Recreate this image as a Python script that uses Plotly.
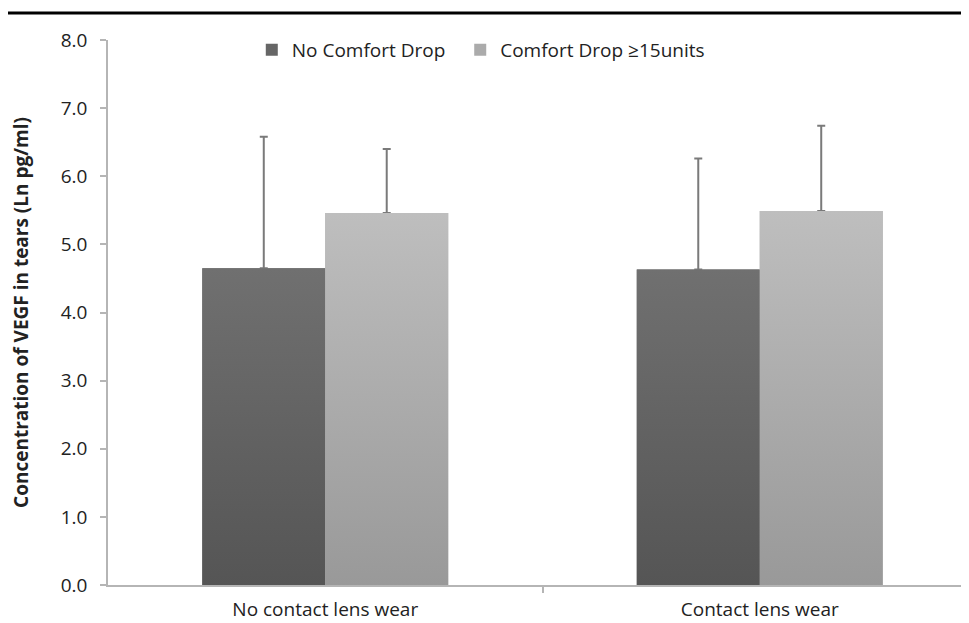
import plotly.graph_objects as go

categories = ["No contact lens wear", "Contact lens wear"]
series_names = ["No Comfort Drop\u00a0\u00a0", "Comfort Drop \u226515units"]
values_no_drop = [4.65, 4.63]
values_drop = [5.46, 5.49]
err_no_drop = [1.93, 1.63]
err_drop = [0.94, 1.25]
y_ticks = [0, 1, 2, 3, 4, 5, 6, 7, 8]

FONT = "Open Sans"
bargap = 0.434
bw = (1 - bargap) / 2
xs = list(range(len(categories)))

series = [
    (series_names[0], values_no_drop, err_no_drop, "#666666", "#555555", "#707070", -bw / 2),
    (series_names[1], values_drop, err_drop, "#ababab", "#999999", "#bebebe", bw / 2),
]

fig = go.Figure()
for name, vals, errs, legc, bot, top, off in series:
    fig.add_trace(go.Bar(
        name=name, x=xs, y=vals,
        marker=dict(color=legc, line=dict(width=0)),
        error_y=dict(type="data", symmetric=False, array=errs,
                     arrayminus=[0] * len(errs), color="#7a7a7a",
                     thickness=2, width=4),
    ))
for name, vals, errs, legc, bot, top, off in series:
    for xi, v in zip(xs, vals):
        c = xi + off
        fig.add_trace(go.Scatter(
            x=[c - bw / 2, c + bw / 2, c + bw / 2, c - bw / 2, c - bw / 2],
            y=[0, 0, v, v, 0],
            mode="lines", line=dict(width=0), fill="toself",
            fillgradient=dict(type="vertical", start=0, stop=v,
                              colorscale=[[0, bot], [1, top]]),
            showlegend=False, hoverinfo="skip",
        ))

fig.update_layout(
    width=961, height=615,
    margin=dict(l=100, r=0, t=32, b=38),
    paper_bgcolor="white", plot_bgcolor="white",
    barmode="group", bargap=bargap, bargroupgap=0,
    font=dict(family=FONT, size=19, color="#222222"),
    legend=dict(orientation="h", x=0.167, y=0.9817, xanchor="left", yanchor="middle",
                font=dict(size=19), bgcolor="rgba(0,0,0,0)"),
    showlegend=True,
)
fig.update_xaxes(
    range=[-0.5, 1.4816], tickvals=xs, ticktext=categories, ticks="",
    showline=True, linecolor="#b5b5b5", linewidth=1.5,
    minor=dict(tickvals=[0.5], ticks="outside", ticklen=6, tickcolor="#b5b5b5", tickwidth=1.5),
    showgrid=False, zeroline=False, tickfont=dict(size=19), automargin=False,
    ticklabelstandoff=6,
)
fig.update_yaxes(
    range=[0, 8], tickvals=y_ticks, tickformat=".1f", ticks="outside", ticklen=6,
    tickcolor="#b5b5b5", tickwidth=1.5, showline=True, linecolor="#b5b5b5", linewidth=1.5,
    showgrid=False, zeroline=False, tickfont=dict(size=19), automargin=False,
    ticklabelstandoff=9,
    title=dict(text="<b>Concentration of VEGF in tears (Ln pg/ml)</b>", font=dict(size=19), standoff=31),
)
fig.add_shape(type="line", xref="paper", yref="paper",
              x0=-0.1173, x1=1.0, y0=1.0495, y1=1.0495,
              line=dict(color="black", width=3))
fig.write_html("out.html")
